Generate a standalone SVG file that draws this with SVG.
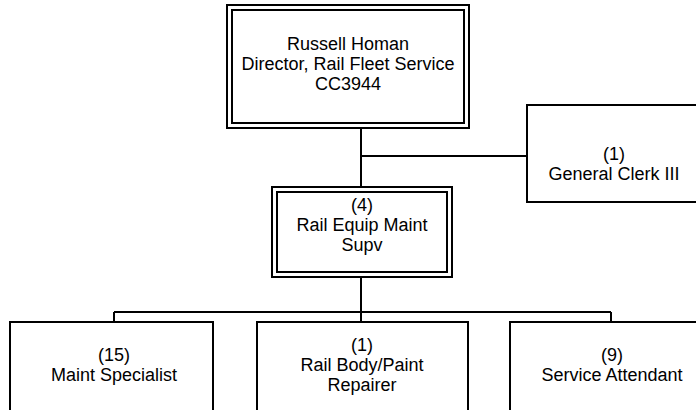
<svg xmlns="http://www.w3.org/2000/svg" width="696" height="410" viewBox="0 0 696 410">
<style>
.box{fill:#fff;stroke:#000;stroke-width:2}
.in{fill:none;stroke:#000;stroke-width:2}
.ln{fill:none;stroke:#000;stroke-width:2}
text{font-family:"Liberation Sans",Arial,sans-serif;font-size:18px;fill:#000;text-anchor:middle}
</style>
<rect width="696" height="410" fill="#fff"/>
<g id="connectors">
<path class="ln" d="M361,128V187M361,156H527M361,277V312M114,312H611M114,312V322M361,312V322M611,312V322"/>
</g>
<g id="director">
<rect class="box" x="227" y="5" width="242" height="123"/>
<rect class="in" x="232" y="10" width="232" height="113"/>
<text x="348" y="50">Russell Homan</text>
<text x="348" y="70">Director, Rail Fleet Service</text>
<text x="348" y="90">CC3944</text>
</g>
<g id="clerk">
<rect class="box" x="527" y="105" width="180" height="97"/>
<text x="614" y="160">(1)</text>
<text x="614" y="180">General Clerk III</text>
</g>
<g id="supv">
<rect class="box" x="272" y="187" width="180" height="90"/>
<rect class="in" x="277" y="192" width="170" height="80"/>
<text x="362" y="211">(4)</text>
<text x="362" y="231">Rail Equip Maint</text>
<text x="362" y="251">Supv</text>
</g>
<g id="maint">
<rect class="box" x="10" y="322" width="203" height="100"/>
<text x="114" y="361">(15)</text>
<text x="114" y="381">Maint Specialist</text>
</g>
<g id="body">
<rect class="box" x="257" y="322" width="211" height="100"/>
<text x="362" y="351">(1)</text>
<text x="362" y="371">Rail Body/Paint</text>
<text x="362" y="391">Repairer</text>
</g>
<g id="attendant">
<rect class="box" x="510" y="322" width="200" height="100"/>
<text x="612" y="361">(9)</text>
<text x="612" y="381">Service Attendant</text>
</g>
</svg>
